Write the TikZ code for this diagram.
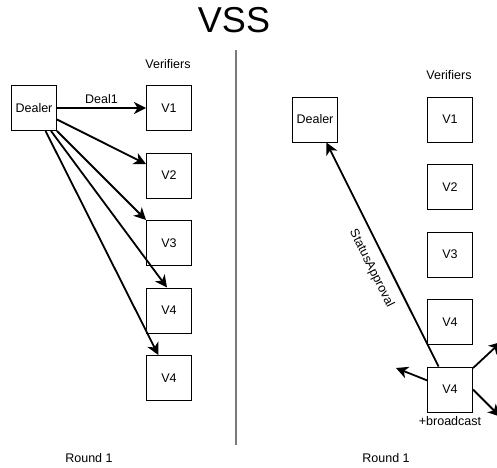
\documentclass[tikz,border=0pt]{standalone}
\usepackage{fontspec}
\setmainfont{Liberation Sans}
\usepackage{xcolor}
\definecolor{dividergray}{HTML}{7A7A7A}
\usetikzlibrary{arrows.meta,positioning}

\begin{document}
\begin{tikzpicture}[
        x=1pt, y=1pt,
        node distance=21.5pt,
        party/.style={rectangle, draw, line width=1pt, minimum width=45pt, minimum height=45pt, inner sep=0pt, align=center, font=\fontsize{12.5}{14}\selectfont},
        caption/.style={font=\fontsize{12.5}{14}\selectfont},
        arrow/.style={-{Stealth[length=12pt,width=12pt,inset=3.5pt]}, line width=1.8pt}
    ]
        \useasboundingbox (0,0) rectangle (497,467);
        \clip (0,0) rectangle (497,467);

        % Title and divider
        \node[font=\fontsize{36}{40}\selectfont] (title) at (234,447) {VSS};
        \draw[dividergray, line width=1.4pt] (236,417) -- (236,22);

        % Left: dealer hands out shares
        \node[party] (ldealer) at (34,359) {Dealer};
        \node[caption] (lverifiers) at (168,403) {Verifiers};
        \node[party] (lv1) at (169,359) {V1};
        \node[party, below=of lv1] (lv2) {V2};
        \node[party, below=of lv2] (lv3) {V3};
        \node[party, below=of lv3] (lv4) {V4};
        \node[party, below=of lv4] (lv5) {V4};
        \node[caption] (lround) at (89,9) {Round 1};

        % Right: complaint round
        \node[party] (rdealer) at (315,347.5) {Dealer};
        \node[caption] (rverifiers) at (449,392) {Verifiers};
        \node[party] (rv1) at (450,347.5) {V1};
        \node[party, below=of rv1] (rv2) {V2};
        \node[party, below=of rv2] (rv3) {V3};
        \node[party, below=of rv3] (rv4) {V4};
        \node[party, below=of rv4] (rv5) {V4};
        \node[caption, below=0pt of rv5] (bcast) {+broadcast};
        \node[caption] (rround) at (386,9) {Round 1};

        % Broadcast targets
        \coordinate (bleft) at (396,99);
        \coordinate (uright) at (501,125);
        \coordinate (dright) at (500,50.5);

        % Arrows
        \draw[arrow] (ldealer) -- node[caption, above] (deallbl) {Deal1} (lv1);
        \draw[arrow] (ldealer) -- (lv2);
        \draw[arrow] (ldealer) -- (lv3);
        \draw[arrow] (ldealer) -- (lv4.95);
        \draw[arrow] (ldealer) -- (lv5.115);

        \draw[arrow] (rv5) -- node[caption, sloped, below=6pt, pos=0.47] (statuslbl) {StatusApproval} (rdealer);
        \draw[arrow] (rv5) -- (bleft);
        \draw[arrow] (rv5) -- (uright);
        \draw[arrow] (rv5.east) -- (dright);

    \end{tikzpicture}
\end{document}
